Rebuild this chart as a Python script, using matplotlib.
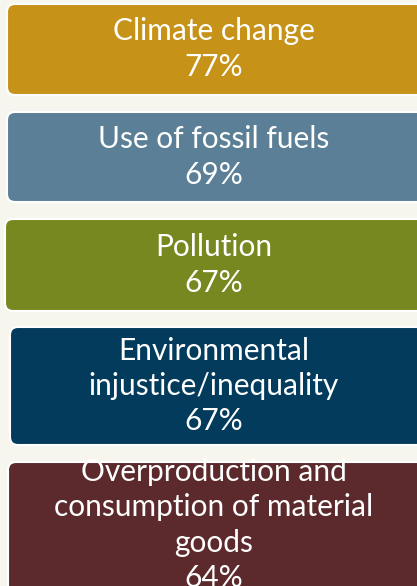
import matplotlib
matplotlib.use("Agg")
import matplotlib.pyplot as plt
from matplotlib.patches import FancyBboxPatch

# data
labels = ["Climate change", "Use of fossil fuels", "Pollution",
          "Environmental\ninjustice/inequality",
          "Overproduction and\nconsumption of material\ngoods"]
values = [77, 69, 67, 67, 64]
colors = ["#C69217", "#5B7F96", "#788820", "#023B5C", "#5C2A2C"]

# layout (pixels): left, top, bottom of each box
box_left = [7, 7, 5, 10, 8]
box_top = [4, 112, 219, 327, 462]
box_bottom = [95, 202, 311, 445, 600]
text_y = [49, 157, 265, 386, 525]

W, H = 417, 586
fig = plt.figure(figsize=(W / 100, H / 100), dpi=100)
fig.patch.set_facecolor("#F6F6EF")
ax = fig.add_axes([0, 0, 1, 1])
ax.set_xlim(0, W)
ax.set_ylim(H, 0)
ax.axis("off")

for i, lab in enumerate(labels):
    x0 = box_left[i]
    y0 = box_top[i]
    h = box_bottom[i] - y0
    box = FancyBboxPatch((x0, y0), W + 20 - x0, h,
                         boxstyle="round,pad=0,rounding_size=8",
                         facecolor=colors[i], edgecolor="white", linewidth=1.5)
    ax.add_patch(box)
    ax.text(214, text_y[i], "{}\n{}%".format(lab, values[i]),
            ha="center", va="center", color="white", fontsize=21.5,
            family="Lato", linespacing=1.32)

fig.savefig("out.png", dpi=100, facecolor=fig.get_facecolor())
